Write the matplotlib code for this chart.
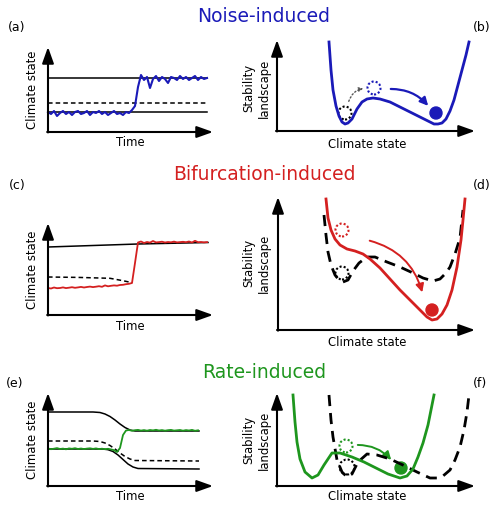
import numpy as np
import matplotlib
matplotlib.use("Agg")
import matplotlib.pyplot as plt
from matplotlib.patches import Circle, FancyArrowPatch

BLUE = "#1a1ab8"
RED = "#d42020"
GREEN = "#1e961e"

# ---- (a) noise-induced time series ----
t_a = np.arange(0, 160, 3)
upper_a, thresh_a, lower_a = 54, 29, 20
noise_a = [20, 18, 21, 16, 19, 21, 18, 20, 17, 20, 21, 18, 19, 21, 17, 20, 19, 21,
           18, 20, 17, 19, 21, 18, 19, 17, 20, 19,
           22, 26, 45, 57, 52, 55, 44, 53, 56, 51, 55, 53, 49, 55, 54, 52, 56, 53,
           55, 52, 54, 56, 52, 55, 53, 54]

# ---- (b) noise-induced landscape ----
land_b_x = [52, 54, 56, 59, 62, 65, 68, 71, 75, 80, 85, 90, 96, 103, 113, 123, 133,
            143, 151, 157, 161, 165, 169, 173, 177, 181, 185, 189, 192]
land_b_y = [89, 61, 41, 25, 15, 9, 7, 8, 12, 22, 29, 32, 33, 32, 29, 24, 19,
            14, 10, 7, 7, 8, 12, 20, 31, 46, 61, 76, 89]

# ---- (c) bifurcation-induced time series ----
t_c = np.arange(0, 160, 3)
upper_c_x = [0, 45, 90, 160]
upper_c_y = [68, 69.5, 71, 72.5]
thresh_c_x = [0, 30, 62, 75, 80, 84]
thresh_c_y = [38, 37.6, 36.7, 34.3, 33.2, 32.3]
series_c = [27, 26.5, 27.5, 26.8, 27, 27.6, 26.9, 27.3, 27.8, 27.2, 27.6, 28.1, 27.5,
            28, 28.4, 27.9, 28.3, 28.8, 28.2, 29.6, 28.7, 29.2, 29.6, 29.3, 30, 30.2,
            30.8, 31.2, 32,
            52, 72.5,
            73.5, 72, 73, 72.4, 74, 72.6, 72.9, 73.3, 72.5, 73, 72.7, 73.4, 72.6,
            72.9, 73.2, 72.8, 73.5, 72.5, 74.2, 72.8, 73, 72.6, 72.9]

# ---- (d) bifurcation-induced landscape ----
land_d_x = [48, 50, 53, 57, 62, 69, 77, 85, 92, 102, 112, 122, 132, 142, 149, 154,
            159, 164, 169, 174, 179, 183, 185, 187]
land_d_y = [131, 112, 100, 91, 85, 81, 79, 76, 71, 62, 51, 40, 30, 20, 13, 10,
            11, 16, 25, 40, 63, 90, 110, 131]
old_d_x = [46, 48, 50, 53, 57, 61, 65, 70, 75, 81, 89, 97, 109, 122, 135, 145, 155,
           162, 168, 172, 177, 182, 185]
old_d_y = [115, 95, 78, 65, 55, 50, 48, 50, 59, 67, 73, 73, 68, 63, 57, 52, 49,
           51, 57, 63, 76, 92, 120]

# ---- (e) rate-induced time series ----
t_e = np.arange(0, 151, 3)
shift_x = [0, 45, 52, 57, 62, 67, 72, 77, 82, 87, 151]
upper_e = [74, 74, 73.5, 72, 69.5, 66, 62, 58.5, 56, 55, 55]
thresh_e = [45, 45, 44.5, 43, 40.5, 37, 33, 29.5, 27, 25.5, 25]
lower_e_x = [0, 55, 60, 65, 70, 75, 80, 85, 90, 151]
lower_e = [37, 37, 36.3, 34.5, 31, 26.5, 22, 19, 17.5, 17]
series_e = [37.5, 36.8, 37.3, 37.9, 37, 37.4, 36.7, 37.6, 37.2, 37.8, 37, 37.5, 36.9,
            37.4, 37.7, 37.1, 37.6, 36.9, 37.3, 36.8, 37.2, 36.6,
            35.8, 34, 38, 51,
            55.5, 56, 55.2, 55.8, 56.1, 55.4, 55.9, 55.3, 56, 55.6, 56.2, 55.5, 55.9,
            55.3, 55.8, 56.1, 55.4, 55.7, 56, 55.3, 55.9, 55.5, 56.1, 55.2, 55.7]

# ---- (f) rate-induced landscape ----
land_f_x = [16, 18, 20, 23, 28, 35, 41, 47, 55, 63, 75, 87, 99, 111, 123, 130, 136,
            141, 146, 151, 154, 157]
land_f_y = [91, 64, 44, 27, 14, 8, 11, 21, 33, 33, 29, 24, 18, 12, 8, 10, 17,
            29, 43, 61, 76, 91]
old_f_x = [52, 54, 56, 60, 65, 70, 75, 81, 90, 100, 113, 128, 140, 153, 160, 166,
           173, 178, 183, 187, 190, 192]
old_f_y = [91, 66, 49, 26, 14, 9, 12, 24, 32, 31, 27, 20, 14, 8, 8, 10, 16, 26,
           39, 56, 74, 91]

# ball positions: (ghost start, ghost after, final)
balls_b = [(68, 18), (97, 43), (159, 18)]
balls_d = [(64, 100), (64, 57), (154, 20)]
balls_f = [(69, 40), (70, 19), (124, 18)]

W, H = 500, 512
fig = plt.figure(figsize=(5, 5.12), dpi=100)


def px(x, y):
    return x / W, 1 - y / H


def panel(ox, oy, w, h):
    l, b = px(ox, oy)
    ax = fig.add_axes([l, b, w / W, h / H])
    ax.set_xlim(0, w)
    ax.set_ylim(0, h)
    ax.axis("off")
    kw = dict(arrowstyle="-|>,head_length=0.7,head_width=0.25", lw=1.5,
              color="k", mutation_scale=14, shrinkA=0, shrinkB=0)
    ax.annotate("", xy=(1.0, 0), xytext=(-0.005, 0), xycoords="axes fraction",
                arrowprops=kw)
    ax.annotate("", xy=(0, 1.0), xytext=(0, -0.005), xycoords="axes fraction",
                arrowprops=kw)
    return ax


def ghost(ax, xy, color, r=6.5):
    ax.add_patch(Circle(xy, r, fill=False, ec=color, lw=1.5, ls=(0, (1, 1)),
                        clip_on=False))


def arrow(ax, a, b, color, rad, ls="-", lw=1.5, ms=12):
    ax.add_patch(FancyArrowPatch(a, b, connectionstyle=f"arc3,rad={rad}",
                                 arrowstyle="-|>", color=color, lw=lw, ls=ls,
                                 mutation_scale=ms, clip_on=False))


ts_kw = dict(color="k", lw=1.1, clip_on=False)
dash_ts = dict(color="k", lw=1.1, ls=(0, (3, 2)), clip_on=False)
dash_land = dict(color="k", lw=2.0, ls=(0, (4, 2.5)), clip_on=False)

# (a)
ax = panel(48, 132, 165, 85)
ax.plot([0, 159], [upper_a, upper_a], **ts_kw)
ax.plot([0, 159], [thresh_a, thresh_a], **dash_ts)
ax.plot([0, 159], [lower_a, lower_a], **ts_kw)
ax.plot(t_a, noise_a, color=BLUE, lw=1.5, clip_on=False)

# (b)
ax = panel(277, 131, 198, 91)
ax.plot(land_b_x, land_b_y, color=BLUE, lw=2.0, clip_on=False)
ghost(ax, balls_b[0], "k")
ghost(ax, balls_b[1], BLUE)
ax.add_patch(Circle(balls_b[2], 6, color=BLUE, clip_on=False))
arrow(ax, (71, 27), (89, 43), "#555555", -0.35, ls=":", lw=1.0, ms=6)
arrow(ax, (111, 42), (153, 23), BLUE, -0.25, lw=1.6)

# (c)
ax = panel(48, 315, 165, 92)
ax.plot(upper_c_x, upper_c_y, **ts_kw)
ax.plot(thresh_c_x, thresh_c_y, **dash_ts)
ax.plot(t_c, series_c, color=RED, lw=1.3, clip_on=False)

# (d)
ax = panel(278, 330, 197, 133)
ax.plot(old_d_x, old_d_y, **dash_land)
ax.plot(land_d_x, land_d_y, color=RED, lw=2.0, clip_on=False)
ghost(ax, balls_d[0], RED)
ghost(ax, balls_d[1], "k")
ax.add_patch(Circle(balls_d[2], 6, color=RED, clip_on=False))
arrow(ax, (89, 90), (145, 35), RED, -0.3, lw=1.4)

# (e)
ax = panel(48, 486, 165, 93)
ax.plot(shift_x, upper_e, **ts_kw)
ax.plot(shift_x, thresh_e, **dash_ts)
ax.plot(lower_e_x, lower_e, **ts_kw)
ax.plot(t_e, series_e, color=GREEN, lw=1.3, clip_on=False)

# (f)
ax = panel(277, 486, 198, 93)
ax.plot(old_f_x, old_f_y, **dash_land)
ax.plot(land_f_x, land_f_y, color=GREEN, lw=2.0, clip_on=False)
ghost(ax, balls_f[0], GREEN)
ghost(ax, balls_f[1], "k", r=7.5)
ax.add_patch(Circle(balls_f[2], 6, color=GREEN, clip_on=False))
arrow(ax, (78, 41), (116, 24), GREEN, -0.25, lw=1.4)

# titles
for txt, y, c in [("Noise-induced", 17, BLUE), ("Bifurcation-induced", 174, RED),
                  ("Rate-induced", 372, GREEN)]:
    fig.text(*px(264, y), txt, color=c, fontsize=13.5, ha="center", va="center")

# panel letters
for txt, x, y in [("(a)", 17, 27), ("(b)", 482, 28), ("(c)", 17, 185),
                  ("(d)", 482, 185), ("(e)", 15, 383), ("(f)", 480, 383)]:
    fig.text(*px(x, y), txt, fontsize=9, ha="center", va="center")

# axis labels
for yc, yt in [(90, 143), (270, 326), (440, 497)]:
    fig.text(*px(33, yc), "Climate state", rotation=90, fontsize=8.4,
             ha="center", va="center")
    fig.text(*px(130, yt), "Time", fontsize=8.4, ha="center", va="center")
for yc, yt in [(88, 144), (263, 342), (440, 497)]:
    fig.text(*px(257, yc), "Stability\nlandscape", rotation=90, fontsize=8.4,
             ha="center", va="center", linespacing=1.25)
    fig.text(*px(367, yt), "Climate state", fontsize=8.4, ha="center", va="center")

fig.savefig("out.png", dpi=100)
